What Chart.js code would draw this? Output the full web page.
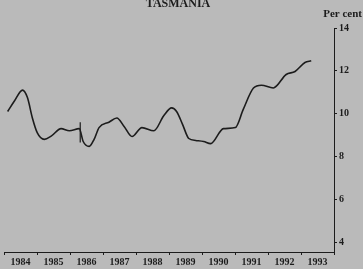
<!DOCTYPE html>
<html>
<head>
<meta charset="utf-8">
<script src="https://cdn.jsdelivr.net/npm/chart.js@4"></script>
<style>
  html, body { margin: 0; padding: 0; background: #bababa; }
  #wrap { width: 363px; height: 269px; }
</style>
</head>
<body>
<div id="wrap"><canvas id="c" width="363" height="269"></canvas></div>
<script>
const chartTitle = 'TASMANIA';
const unitLabel = 'Per cent';
const yearLabels = ['1984','1985','1986','1987','1988','1989','1990','1991','1992','1993'];
const yTicks = [4, 6, 8, 10, 12, 14];
// time in decimal years, unemployment rate (per cent)
const periods = [1984.11,1984.32,1984.56,1984.71,1984.86,1985.01,1985.22,1985.43,1985.73,1985.98,
  1986.28,1986.40,1986.58,1986.73,1986.88,1987.18,1987.42,1987.64,1987.88,1988.18,1988.54,
  1988.84,1989.08,1989.23,1989.41,1989.60,1989.81,1990.05,1990.26,1990.65,1991.01,1991.25,
  1991.56,1991.80,1992.16,1992.55,1992.82,1993.12,1993.31];
const rates = [10.1,10.6,11.1,10.75,9.8,9.1,8.8,8.95,9.3,9.2,
  9.3,8.7,8.47,8.8,9.35,9.6,9.8,9.4,8.93,9.35,9.2,
  9.9,10.27,10.1,9.5,8.84,8.75,8.7,8.6,9.3,9.35,10.2,
  11.2,11.33,11.2,11.83,11.97,12.39,12.47];
const breakPeriod = [1986.31, 1986.31];
const breakRange = [9.6, 8.65];

const ink = '#1c1c1c';
const serif = '"Liberation Serif", "DejaVu Serif", serif';

const textPlugin = {
  id: 'texts',
  beforeDraw(chart) {
    const ctx = chart.ctx;
    ctx.save();
    ctx.fillStyle = '#bababa';
    ctx.fillRect(0, 0, chart.width, chart.height);
    ctx.restore();
  },
  afterDraw(chart) {
    const ctx = chart.ctx;
    ctx.save();
    ctx.fillStyle = ink;
    ctx.textBaseline = 'alphabetic';
    ctx.font = 'bold 12px ' + serif;
    ctx.textAlign = 'center';
    ctx.fillText(chartTitle, 178, 7);
    ctx.font = 'bold 11px ' + serif;
    ctx.textAlign = 'right';
    ctx.fillText(unitLabel, 362, 17);
    ctx.restore();
  }
};

new Chart(document.getElementById('c'), {
  type: 'line',
  data: {
    datasets: [
      {
        data: periods.map((p, i) => ({x: p, y: rates[i]})),
        borderColor: ink, borderWidth: 1.6, pointRadius: 0,
        cubicInterpolationMode: 'monotone', fill: false
      },
      {
        data: breakPeriod.map((p, i) => ({x: p, y: breakRange[i]})),
        borderColor: ink, borderWidth: 1.2, pointRadius: 0, fill: false
      }
    ]
  },
  options: {
    responsive: false,
    animation: false,
    devicePixelRatio: 1,
    layout: { padding: { left: 4, right: 12, top: 28, bottom: 0 } },
    plugins: { legend: { display: false }, tooltip: { enabled: false }, title: { display: false } },
    scales: {
      x: {
        type: 'linear', min: 1984, max: 1994,
        afterBuildTicks(scale) {
          scale.ticks = yearLabels.map((l, i) => ({ value: Number(l) + 0.5 }));
        },
        ticks: {
          autoSkip: false, maxRotation: 0, padding: 1, color: ink,
          font: { family: serif, size: 10, weight: 'bold' },
          callback: (v) => String(Math.floor(v))
        },
        grid: { offset: true, drawOnChartArea: false, tickLength: 3, color: ink, tickColor: ink },
        border: { display: true, color: ink, width: 1 }
      },
      y: {
        type: 'linear', position: 'right', min: 3.54, max: 14,
        afterBuildTicks(scale) {
          scale.ticks = yTicks.map(v => ({ value: v }));
        },
        ticks: {
          padding: 2, color: ink,
          font: { family: serif, size: 10, weight: 'bold' }
        },
        grid: { drawOnChartArea: false, tickLength: 3, color: ink, tickColor: ink },
        border: { display: true, color: ink, width: 1 }
      }
    }
  },
  plugins: [textPlugin]
});
</script>
</body>
</html>
